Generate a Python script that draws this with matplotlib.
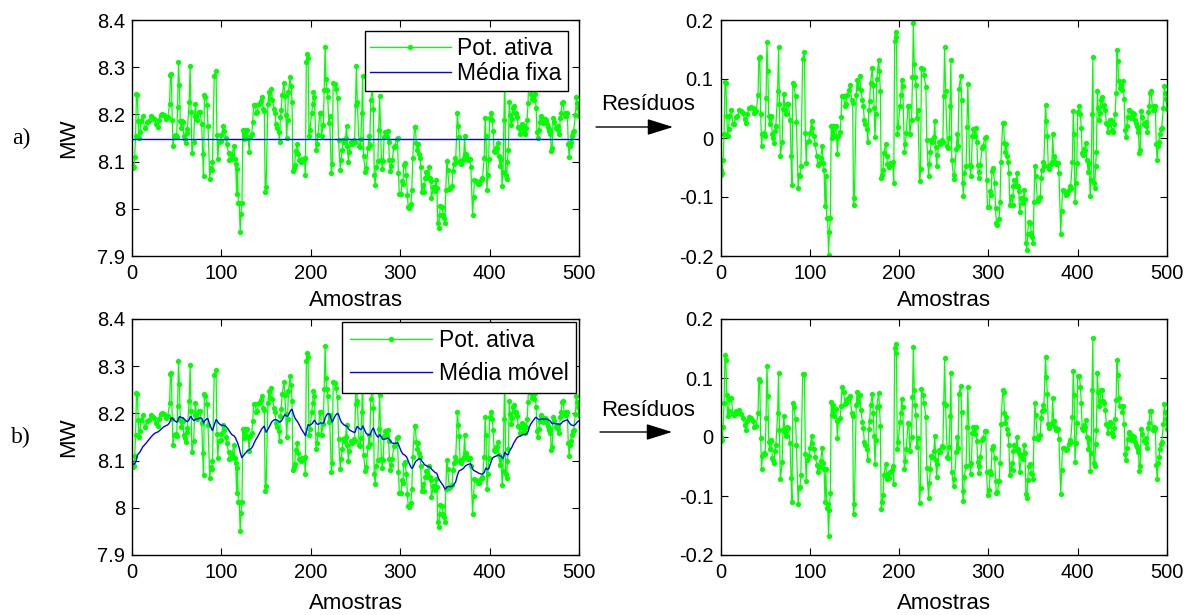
import numpy as np
import matplotlib
matplotlib.use("Agg")
import matplotlib.pyplot as plt
from matplotlib.ticker import FuncFormatter

plt.rcParams['font.family'] = ['Liberation Sans', 'DejaVu Sans']
plt.rcParams['axes.unicode_minus'] = False

# ---------------- data ----------------
amostras = np.array([
    0, 1, 2, 3, 4, 5, 6, 7, 8, 9, 10, 12, 14, 15, 17, 19, 21, 23, 25, 27, 29, 30, 32, 34, 36, 38, 40,
    42, 43, 44, 45, 46, 47, 49, 50, 51, 52, 53, 54, 55, 56, 57, 58, 59, 60, 61, 62, 64, 65, 66, 67,
    69, 70, 71, 72, 73, 75, 76, 78, 79, 80, 81, 82, 84, 85, 87, 88, 89, 90, 92, 94, 95, 96, 97, 99,
    100, 102, 103, 105, 106, 108, 109, 111, 112, 114, 115, 116, 117, 118, 119, 120, 121, 122, 123,
    124, 125, 126, 127, 129, 130, 131, 132, 134, 135, 136, 138, 139, 140, 142, 144, 145, 147, 148,
    149, 150, 152, 153, 154, 156, 157, 159, 160, 161, 162, 164, 165, 166, 167, 168, 170, 171, 172,
    173, 174, 175, 177, 178, 179, 180, 181, 182, 183, 185, 186, 187, 189, 190, 192, 193, 194, 195,
    196, 197, 198, 199, 201, 202, 203, 204, 206, 207, 208, 210, 211, 212, 214, 215, 216, 217, 218,
    219, 220, 221, 223, 224, 225, 227, 228, 230, 231, 233, 234, 235, 236, 237, 239, 240, 241, 242,
    243, 245, 246, 248, 249, 250, 251, 252, 254, 255, 256, 257, 258, 259, 261, 262, 264, 265, 266,
    267, 269, 270, 271, 272, 273, 275, 276, 277, 279, 280, 281, 282, 283, 285, 286, 287, 288, 289,
    290, 291, 293, 294, 296, 297, 298, 299, 301, 302, 303, 304, 305, 307, 308, 309, 310, 312, 313,
    314, 316, 317, 318, 319, 320, 321, 322, 323, 324, 326, 327, 328, 329, 331, 332, 333, 334, 335,
    337, 338, 339, 340, 341, 342, 343, 344, 345, 347, 348, 349, 350, 351, 352, 353, 355, 356, 358,
    359, 360, 361, 362, 364, 365, 366, 367, 368, 370, 371, 372, 373, 374, 375, 376, 378, 379, 381,
    382, 383, 385, 387, 388, 390, 391, 392, 394, 395, 396, 397, 398, 399, 400, 402, 403, 404, 405,
    406, 407, 408, 409, 410, 412, 413, 414, 415, 416, 417, 418, 419, 420, 421, 422, 423, 424, 425,
    426, 427, 428, 430, 431, 432, 433, 434, 435, 436, 437, 438, 440, 441, 442, 443, 444, 445, 446,
    447, 449, 450, 451, 452, 453, 454, 455, 456, 457, 458, 459, 460, 462, 463, 464, 465, 466, 467,
    468, 469, 470, 471, 472, 474, 475, 476, 477, 478, 479, 480, 481, 482, 484, 485, 486, 487, 488,
    489, 490, 491, 492, 493, 494, 496, 497, 498, 499, 500])

# residuals of the active power w.r.t. the fixed mean (MW)
residuo_fixo = np.array([
    -0.055, -0.062, -0.060, -0.038, 0.006, 0.095, 0.093, 0.038, 0.003, 0.015, 0.038, 0.048, 0.024,
    0.024, 0.036, 0.037, 0.048, 0.045, 0.042, 0.032, 0.025, 0.041, 0.051, 0.053, 0.051, 0.042, 0.046,
    0.073, 0.136, 0.137, 0.040, -0.014, 0.006, 0.008, 0.004, 0.068, 0.162, 0.114, 0.037, 0.023, 0.038,
    0.036, 0.006, 0.000, -0.008, 0.012, 0.021, 0.079, 0.154, 0.058, -0.030,
    -0.006, 0.049, 0.075, 0.048, 0.041, 0.058, 0.058, 0.031, -0.031, -0.079, 0.093, 0.089, 0.072,
    0.027, -0.085, -0.062, -0.065, -0.048, 0.134, 0.145, 0.008, -0.042, -0.007, -0.005,
    0.008, 0.028, 0.017, 0.003, -0.011, -0.030, -0.045, -0.042, -0.034, -0.014, -0.042, -0.054,
    -0.116, -0.064, -0.136, -0.136, -0.198, -0.160, -0.136,
    0.020, 0.000, 0.020, 0.004, 0.020, 0.002, -0.027, 0.004, 0.011, 0.035, 0.072, 0.072, 0.054, 0.058,
    0.073, 0.081, 0.089, 0.064, 0.060,
    -0.113, -0.102, 0.073, 0.099, 0.085, 0.105, 0.082, 0.064, 0.055, 0.031, 0.024, 0.015, -0.006,
    0.047, 0.062, 0.093, 0.119, 0.090, 0.051,
    0.001, 0.041, 0.100, 0.132, 0.113, 0.079, -0.068, -0.062, -0.055, -0.025, -0.010, -0.031, -0.044,
    -0.049, -0.042, -0.044, -0.041, -0.076, 0.164,
    0.179, 0.171, 0.006, 0.019, 0.054, 0.073, 0.099, 0.088, -0.023, -0.011, 0.008, 0.054, 0.054, 0.007,
    0.030, 0.103, 0.195, 0.126, 0.103,
    0.089, 0.034, 0.048, -0.073, -0.053, 0.119, 0.117, 0.106, 0.086, -0.003, -0.065, -0.044, -0.023,
    -0.003, -0.006, 0.002, 0.028, -0.015, -0.048,
    -0.028, -0.006, -0.011, -0.003, -0.006, 0.072, 0.155, 0.079, -0.014, -0.017, 0.000, 0.055, 0.133,
    -0.037, -0.069, -0.062, -0.019, 0.006, -0.013,
    0.083, 0.105, 0.064, -0.076, -0.098, -0.060, -0.047, 0.019, 0.092, -0.045, -0.064, -0.047, 0.004,
    0.015, 0.004, 0.017, -0.007, -0.045, -0.068,
    -0.058, -0.045, -0.017, -0.014, 0.000, 0.001, -0.072, -0.117, -0.117, -0.089, -0.096, -0.056,
    -0.051, -0.076, -0.119, -0.144, -0.147, -0.137, -0.109,
    -0.041, 0.025, 0.025, -0.008, -0.023, -0.011, -0.031, -0.040, -0.059, -0.113, -0.098, -0.113,
    -0.082, -0.071, -0.082, -0.060, -0.082, -0.090, -0.126,
    -0.102, -0.102, -0.110, -0.088, -0.103, -0.178, -0.189, -0.162, -0.142, -0.144, -0.161, -0.167,
    -0.178, -0.109, -0.047, -0.065, -0.107, -0.103, -0.100,
    -0.068, -0.054, -0.041, -0.048, 0.056, 0.028, 0.004, -0.047, -0.053, -0.044, -0.041, 0.006, -0.032,
    -0.031, -0.040, -0.044, -0.042, -0.059, -0.162,
    -0.124, -0.088, -0.090, -0.096, -0.095, -0.088, -0.082, -0.085, -0.040, 0.045, 0.007, -0.109,
    -0.077, -0.042, 0.044, 0.054, 0.041, 0.017, -0.025,
    -0.028, -0.019, -0.020, -0.008, -0.037, -0.058, -0.042, -0.099, -0.071, 0.040, 0.137, -0.076,
    -0.085, -0.048, -0.023, 0.079, 0.051, 0.030, 0.042,
    0.065, 0.069, 0.054, 0.056, 0.047, 0.025, 0.023, 0.010, 0.023, 0.031, 0.030, 0.014, 0.010, 0.023,
    0.040, 0.076, 0.150, 0.130, 0.096,
    0.085, 0.090, 0.082, 0.096, 0.066, 0.014, 0.001, 0.020, 0.036, 0.048, 0.047, 0.045, 0.034, 0.042,
    0.040, 0.031, 0.025, 0.021, 0.017,
    0.010, -0.025, -0.020, 0.045, 0.036, 0.023, 0.025, 0.020, 0.027, 0.010, 0.044, 0.054, 0.077, 0.079,
    0.048, 0.048, 0.054, 0.054, -0.011,
    -0.038, -0.014, -0.006, 0.006, 0.015, 0.017, 0.051, 0.088, 0.076, 0.066, 0.049])

media_fixa = 8.148     # MW, blue line of panel a)
alfa_media_movel = 0.05  # smoothing factor of the moving average (per sample)

xticks = [0, 100, 200, 300, 400, 500]
yticks_mw = [7.9, 8.0, 8.1, 8.2, 8.3, 8.4]
yticks_res = [-0.2, -0.1, 0.0, 0.1, 0.2]

# ---------------- derived series ----------------
pot_ativa = media_fixa + residuo_fixo


def media_movel(x, y, alfa):
    out = np.empty_like(y)
    out[0] = y[0]
    for k in range(1, len(y)):
        a = 1.0 - (1.0 - alfa) ** (x[k] - x[k - 1])
        out[k] = out[k - 1] + a * (y[k] - out[k - 1])
    return out


mm = media_movel(amostras, pot_ativa, alfa_media_movel)
residuo_movel = pot_ativa - mm

# ---------------- figure ----------------
W, H = 1195, 615
fig = plt.figure(figsize=(W / 100, H / 100), dpi=100)


def px_axes(x0, y0, x1, y1):
    return fig.add_axes([x0 / W, 1 - y1 / H, (x1 - x0) / W, (y1 - y0) / H])


ax_a = px_axes(132, 20, 579, 256)
ax_ar = px_axes(720.5, 20, 1167, 256)
ax_b = px_axes(132, 319, 579, 555)
ax_br = px_axes(720.5, 319, 1167, 555)

GREEN = '#00ff00'
BLUE = '#0000ff'
fmt = FuncFormatter(lambda v, p: '%g' % round(v, 6))


def style(ax, yticks, xlab_y):
    ax.set_xlim(0, 500)
    ax.set_ylim(yticks[0], yticks[-1])
    ax.set_xticks(xticks)
    ax.set_yticks(yticks)
    ax.xaxis.set_major_formatter(fmt)
    ax.yaxis.set_major_formatter(fmt)
    ax.tick_params(direction='in', top=True, right=True, length=5, width=0.8,
                   labelsize=14.5, colors='black')
    ax.tick_params(axis='x', pad=6)
    ax.tick_params(axis='y', pad=5)
    for sp in ax.spines.values():
        sp.set_linewidth(1.0)
        sp.set_color('black')
    ax.set_xlabel('Amostras', fontsize=16)
    ax.xaxis.set_label_coords(0.5, xlab_y)
    ax.xaxis.label.set_va('center')


def green(ax, y, label=None):
    ax.plot(amostras, y, '-', color=GREEN, lw=0.9, marker='o', ms=3.8,
            mec='none', mfc=GREEN, label=label)


# panel a)
green(ax_a, pot_ativa, 'Pot. ativa')
ax_a.axhline(media_fixa, color=BLUE, lw=1.0, label='Média fixa')
style(ax_a, yticks_mw, -0.19)
ax_a.set_ylabel('MW', fontsize=16)
ax_a.yaxis.set_label_coords(-0.141, 0.5)
ax_a.yaxis.label.set_va('center')
leg = ax_a.legend(loc='upper right', fontsize=16.5, frameon=True, fancybox=False,
                  edgecolor='black', framealpha=1, borderaxespad=0.5, borderpad=0.25,
                  labelspacing=0.08, handlelength=3.5, handletextpad=0.3)
leg.get_frame().set_linewidth(1.0)

green(ax_ar, residuo_fixo)
style(ax_ar, yticks_res, -0.19)

# panel b)
green(ax_b, pot_ativa, 'Pot. ativa')
ax_b.plot(amostras, mm, color=BLUE, lw=1.0, label='Média móvel')
style(ax_b, yticks_mw, -0.204)
ax_b.set_ylabel('MW', fontsize=16)
ax_b.yaxis.set_label_coords(-0.141, 0.5)
ax_b.yaxis.label.set_va('center')
leg = ax_b.legend(loc='upper right', fontsize=16.5, frameon=True, fancybox=False,
                  edgecolor='black', framealpha=1, borderaxespad=0.12, borderpad=0.32,
                  labelspacing=0.45, handlelength=3.6, handletextpad=0.3)
leg.get_frame().set_linewidth(1.0)

green(ax_br, residuo_movel)
style(ax_br, yticks_res, -0.204)

# annotations
for lab, y in (('a)', 138), ('b)', 437)):
    fig.text(21 / W, 1 - y / H, lab, family=['Liberation Serif', 'DejaVu Serif'],
             fontsize=17, ha='center', va='center')

for ty, ay, x0, x1 in ((105, 127, 596, 673), (410, 432, 600, 672)):
    fig.text(648 / W, 1 - ty / H, 'Resíduos', fontsize=16, ha='center', va='center')
    fig.add_artist(matplotlib.patches.FancyArrowPatch(
        (x0 / W, 1 - ay / H), (x1 / W, 1 - ay / H), transform=fig.transFigure,
        arrowstyle='-|>,head_length=1.6,head_width=0.5', mutation_scale=10,
        color='black', lw=1.0, shrinkA=0, shrinkB=0))

fig.savefig('out.png', dpi=100)
